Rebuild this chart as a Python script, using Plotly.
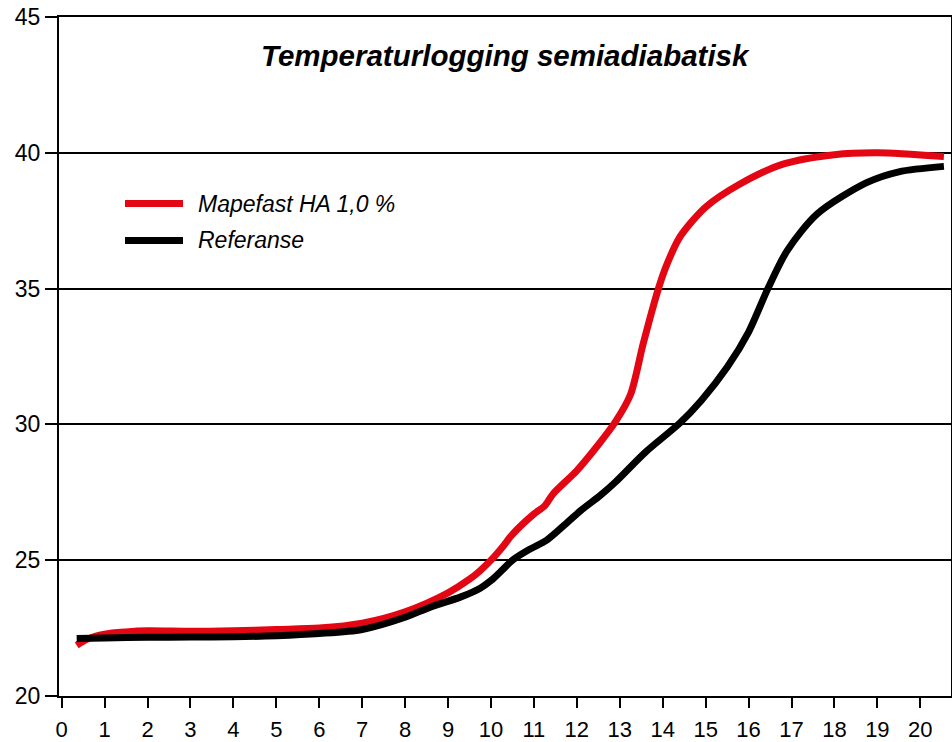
import plotly.graph_objects as go

title_text = "Temperaturlogging semiadiabatisk"
series_names = ["Mapefast HA 1,0 %", "Referanse"]

red_x = [0.35, 0.6, 1.0, 1.5, 2, 3, 4, 5, 6, 7, 8, 9, 9.5, 9.75, 10, 10.25, 10.5, 11, 11.25, 11.45,
         12, 12.5, 12.9, 13.25, 13.55, 13.9, 14.1, 14.4, 15.0, 15.8, 16.8, 18.0, 19.0, 20.55]
red_y = [21.87, 22.1, 22.28, 22.36, 22.4, 22.38, 22.4, 22.45, 22.5, 22.68, 23.1, 23.8, 24.3,
         24.62, 25.0, 25.45, 25.95, 26.7, 27.0, 27.45, 28.3, 29.25, 30.1, 31.1, 33.0, 35.0,
         35.9, 36.9, 38.0, 38.85, 39.58, 39.93, 40.0, 39.86]

black_x = [0.35, 1, 2, 3, 4, 5, 6, 7, 8, 8.6, 9.3, 9.75, 10.0, 10.25, 10.5, 10.9, 11.3, 11.75,
           12.1, 12.55, 12.9, 13.6, 14.4, 14.9, 15.5, 16.0, 16.45, 16.9, 17.6, 18.75, 19.5, 20.55]
black_y = [22.12, 22.14, 22.16, 22.17, 22.18, 22.22, 22.3, 22.45, 22.9, 23.28, 23.65, 23.97,
           24.25, 24.62, 25.0, 25.4, 25.74, 26.35, 26.84, 27.39, 27.88, 28.98, 30.05, 30.88,
           32.1, 33.4, 35.0, 36.4, 37.75, 38.9, 39.3, 39.5]

x_ticks = list(range(0, 21))
y_ticks = [20, 25, 30, 35, 40, 45]

RED = "#E30613"
BLACK = "#000000"
FONT = "Liberation Sans, Arial, Helvetica, sans-serif"

fig = go.Figure()
fig.add_trace(go.Scatter(x=red_x, y=red_y, mode="lines", name=series_names[0],
                         line=dict(color=RED, width=7, shape="spline", smoothing=0.8),
                         showlegend=False))
fig.add_trace(go.Scatter(x=black_x, y=black_y, mode="lines", name=series_names[1],
                         line=dict(color=BLACK, width=7, shape="spline", smoothing=0.8),
                         showlegend=False))

L, R, T, B = 59, 1, 17, 46
W, H = 952, 742
pw = W - L - R
ph = H - T - B

def px2paper_x(px):
    return (px - L) / pw

def px2paper_y(py):
    return 1 - (py - T) / ph

# custom legend
leg = [(series_names[0], RED, 203.5), (series_names[1], BLACK, 240.5)]
for name, col, py in leg:
    fig.add_shape(type="line", xref="paper", yref="paper",
                  x0=px2paper_x(125), x1=px2paper_x(183),
                  y0=px2paper_y(py), y1=px2paper_y(py),
                  line=dict(color=col, width=7))
    fig.add_annotation(xref="paper", yref="paper", x=px2paper_x(196), y=px2paper_y(py),
                       text="<i>" + name + "</i>", showarrow=False,
                       xanchor="left", yanchor="middle",
                       font=dict(family=FONT, size=23, color="black"))

fig.add_annotation(xref="paper", yref="paper", x=px2paper_x(506), y=px2paper_y(55),
                   text="<b><i>" + title_text + "</i></b>", showarrow=False,
                   xanchor="center", yanchor="middle",
                   font=dict(family=FONT, size=29.5, color="black"))

fig.update_layout(
    width=W, height=H,
    margin=dict(l=L, r=R, t=T, b=B, pad=0),
    paper_bgcolor="white", plot_bgcolor="white",
    font=dict(family=FONT, size=23, color="black"),
    xaxis=dict(range=[-0.062, 20.715], tickmode="array", tickvals=x_ticks,
               automargin=False,
               showgrid=False, zeroline=False, showline=True, linecolor="black",
               linewidth=2, mirror=True, ticks="outside", ticklen=10, tickwidth=2,
               tickcolor="black", tickfont=dict(size=22), ticklabelstandoff=3),
    yaxis=dict(range=[20, 45], tickmode="array", tickvals=y_ticks,
               automargin=False,
               showgrid=True, gridcolor="black", gridwidth=2, zeroline=False,
               showline=True, linecolor="black", linewidth=2, mirror=True,
               ticks="outside", ticklen=12, tickwidth=2, tickcolor="black",
               tickfont=dict(size=23)),
)

fig.write_html(
    "out.html",
    config={"displayModeBar": False},
    post_script="document.body.style.margin='0';document.body.style.overflow='hidden';",
)
